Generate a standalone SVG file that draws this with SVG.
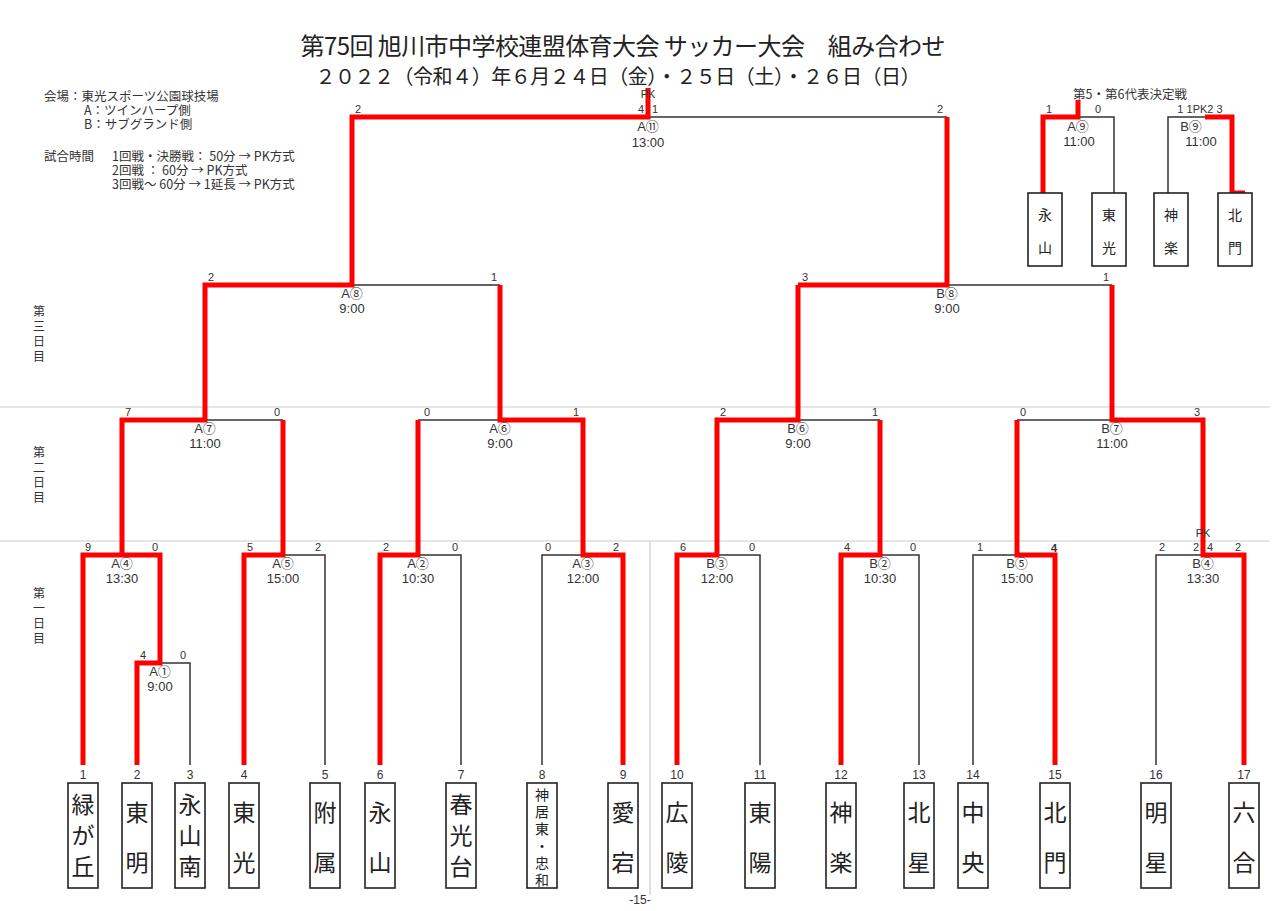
<svg xmlns="http://www.w3.org/2000/svg" width="1280" height="911" viewBox="0 0 1280 911">
<style>
text{font-family:'Liberation Sans','Noto Sans CJK JP',sans-serif;fill:#333}
.jp{font-family:'Noto Sans CJK JP','Liberation Sans',sans-serif}
.red{fill:none;stroke:#f00;stroke-width:5;stroke-linejoin:miter}
.blk{fill:none;stroke:#333;stroke-width:1.5}
.grid{fill:none;stroke:#ccc;stroke-width:1.2}
.box{fill:#fff;stroke:#222;stroke-width:1.6}
.sc{font-size:11px}
.md{font-size:13px;text-anchor:middle}
.num{font-size:12px;text-anchor:middle}
.tm{font-family:'Noto Sans CJK JP',sans-serif;font-size:23px;text-anchor:middle;fill:#222}
.tms{font-family:'Noto Sans CJK JP',sans-serif;font-size:14px;text-anchor:middle;fill:#222}
.info{font-family:'Noto Sans CJK JP',sans-serif;font-size:12.5px}
.day{font-family:'Noto Sans CJK JP',sans-serif;font-size:12px;writing-mode:vertical-rl;letter-spacing:3px}
</style>
<rect width="1280" height="911" fill="#fff"/>
<g id="title">
<text class="jp" x="623" y="55" font-size="24" text-anchor="middle" textLength="645" style="fill:#222">第75回 旭川市中学校連盟体育大会 サッカー大会　組み合わせ</text>
<text class="jp" x="618" y="84" font-size="20" text-anchor="middle" textLength="605" style="fill:#222">２０２２（令和４）年６月２４日（金）・２５日（土）・２６日（日）</text>
</g>
<g id="info">
<text class="info" x="44" y="101">会場：東光スポーツ公園球技場</text>
<text class="info" x="84" y="115">A：ツインハープ側</text>
<text class="info" x="84" y="129">B：サブグランド側</text>
<text class="info" x="44" y="161">試合時間</text>
<text class="info" x="112" y="161">1回戦・決勝戦： 50分 → PK方式</text>
<text class="info" x="112" y="175">2回戦 ： 60分 → PK方式</text>
<text class="info" x="112" y="189">3回戦～ 60分 → 1延長 → PK方式</text>
</g>
<g id="days">
<text class="day" x="39" y="305">第三日目</text>
<text class="day" x="39" y="446">第二日目</text>
<text class="day" x="39" y="587">第一日目</text>
</g>
<g id="gridlines">
<path class="grid" d="M0,407 H1270 M0,541 H1270 M650,541 V895"/>
</g>
<g id="connectors">
<path class="blk" d="M160,663 H190 V765 M283,555 H325 V765 M205,420 H283 M418,555 H461 V765 M583,555 H542 V765 M500,420 H418 M352,285 H500 M648,117 H947 M947,285 H1112 M798,420 H880 M1112,420 H1017 M717,555 H760 V765 M880,555 H919 V765 M1017,555 H973 V765 M1203,555 H1156 V765 M1078,117 H1114 V193 M1205,117 H1168 V193"/>
<path class="red" d="M83,765 V555 H160 V663 H137 V765"/>
<path class="red" d="M122,555 V420 H205 V285 H352 V117 H648 V88"/>
<path class="red" d="M244,765 V555 H283 V420"/>
<path class="red" d="M380,765 V555 H418 V420"/>
<path class="red" d="M623,765 V555 H583 V420 H500 V285"/>
<path class="red" d="M947,117 V285 H798"/>
<path class="red" d="M677,765 V555 H717 V420 H798 V285"/>
<path class="red" d="M841,765 V555 H880 V420"/>
<path class="red" d="M1055,765 V555 H1017 V420"/>
<path class="red" d="M1244,765 V555 H1203 V420 H1112 V285"/>
<path class="red" d="M1043,193 V117 H1078 V100"/>
<path class="red" d="M1205,117 H1232 V193 H1245"/>
</g>
<g id="scores">
<text class="sc" x="85" y="551">9</text><text class="sc" x="152" y="551">0</text>
<text class="sc" x="140" y="659">4</text><text class="sc" x="180" y="659">0</text>
<text class="sc" x="247" y="551">5</text><text class="sc" x="315" y="551">2</text>
<text class="sc" x="383" y="551">2</text><text class="sc" x="452" y="551">0</text>
<text class="sc" x="545" y="551">0</text><text class="sc" x="613" y="551">2</text>
<text class="sc" x="680" y="551">6</text><text class="sc" x="749" y="551">0</text>
<text class="sc" x="844" y="551">4</text><text class="sc" x="910" y="551">0</text>
<text class="sc" x="977" y="551">1</text><text class="sc" x="1051" y="552" font-size="13" font-weight="bold">4</text>
<text class="sc" x="1159" y="551">2</text><text class="sc" x="1193" y="551">2</text><text class="sc" x="1207" y="551">4</text><text class="sc" x="1235" y="551">2</text>
<text class="sc" x="1203" y="537" text-anchor="middle">PK</text>
<text class="sc" x="125" y="416">7</text><text class="sc" x="274" y="416">0</text>
<text class="sc" x="424" y="416">0</text><text class="sc" x="573" y="416">1</text>
<text class="sc" x="720" y="416">2</text><text class="sc" x="872" y="416">1</text>
<text class="sc" x="1020" y="416">0</text><text class="sc" x="1194" y="416">3</text>
<text class="sc" x="208" y="281">2</text><text class="sc" x="491" y="281">1</text>
<text class="sc" x="802" y="281">3</text><text class="sc" x="1103" y="281">1</text>
<text class="sc" x="355" y="113">2</text><text class="sc" x="638" y="113">4</text><text class="sc" x="652" y="113">1</text><text class="sc" x="937" y="113">2</text>
<text class="sc" x="648" y="98" text-anchor="middle">PK</text>
<text class="sc" x="1046" y="113">1</text><text class="sc" x="1095" y="113">0</text>
<text class="sc" x="1200" y="113" text-anchor="middle">1 1PK2 3</text>
</g>
<g id="matches">
<g id="mA4"><text class="md" x="122" y="568">A④</text><text class="md" x="122" y="583">13:30</text></g>
<g id="mA1"><text class="md" x="160" y="676">A①</text><text class="md" x="160" y="691">9:00</text></g>
<g id="mA5"><text class="md" x="283" y="568">A⑤</text><text class="md" x="283" y="583">15:00</text></g>
<g id="mA2"><text class="md" x="418" y="568">A②</text><text class="md" x="418" y="583">10:30</text></g>
<g id="mA3"><text class="md" x="583" y="568">A③</text><text class="md" x="583" y="583">12:00</text></g>
<g id="mB3"><text class="md" x="717" y="568">B③</text><text class="md" x="717" y="583">12:00</text></g>
<g id="mB2"><text class="md" x="880" y="568">B②</text><text class="md" x="880" y="583">10:30</text></g>
<g id="mB5"><text class="md" x="1017" y="568">B⑤</text><text class="md" x="1017" y="583">15:00</text></g>
<g id="mB4"><text class="md" x="1203" y="568">B④</text><text class="md" x="1203" y="583">13:30</text></g>
<g id="mA7"><text class="md" x="205" y="433">A⑦</text><text class="md" x="205" y="448">11:00</text></g>
<g id="mA6"><text class="md" x="500" y="433">A⑥</text><text class="md" x="500" y="448">9:00</text></g>
<g id="mB6"><text class="md" x="798" y="433">B⑥</text><text class="md" x="798" y="448">9:00</text></g>
<g id="mB7"><text class="md" x="1112" y="433">B⑦</text><text class="md" x="1112" y="448">11:00</text></g>
<g id="mA8"><text class="md" x="352" y="298">A⑧</text><text class="md" x="352" y="313">9:00</text></g>
<g id="mB8"><text class="md" x="947" y="298">B⑧</text><text class="md" x="947" y="313">9:00</text></g>
<g id="mA11"><text class="md" x="648" y="131">A⑪</text><text class="md" x="648" y="147">13:00</text></g>
<g id="mA9"><text class="md" x="1078" y="131">A⑨</text><text class="md" x="1079" y="146">11:00</text></g>
<g id="mB9"><text class="md" x="1191" y="131">B⑨</text><text class="md" x="1201" y="146">11:00</text></g>
</g>
<g id="heading56"><text class="info" x="1073" y="99" font-size="13">第5・第6代表決定戦</text></g>
<g id="teams">
<g id="t1"><text class="num" x="83" y="779">1</text><rect class="box" x="68" y="783" width="30" height="105"/><text class="tm" x="83"><tspan x="83" y="813">緑</tspan><tspan x="83" y="844">が</tspan><tspan x="83" y="875">丘</tspan></text></g>
<g id="t2"><text class="num" x="137" y="779">2</text><rect class="box" x="122" y="783" width="30" height="105"/><text class="tm" x="137"><tspan x="137" y="821">東</tspan><tspan x="137" y="871">明</tspan></text></g>
<g id="t3"><text class="num" x="190" y="779">3</text><rect class="box" x="175" y="783" width="30" height="105"/><text class="tm" x="190"><tspan x="190" y="813">永</tspan><tspan x="190" y="844">山</tspan><tspan x="190" y="875">南</tspan></text></g>
<g id="t4"><text class="num" x="244" y="779">4</text><rect class="box" x="229" y="783" width="30" height="105"/><text class="tm" x="244"><tspan x="244" y="821">東</tspan><tspan x="244" y="871">光</tspan></text></g>
<g id="t5"><text class="num" x="325" y="779">5</text><rect class="box" x="310" y="783" width="30" height="105"/><text class="tm" x="325"><tspan x="325" y="821">附</tspan><tspan x="325" y="871">属</tspan></text></g>
<g id="t6"><text class="num" x="380" y="779">6</text><rect class="box" x="365" y="783" width="30" height="105"/><text class="tm" x="380"><tspan x="380" y="821">永</tspan><tspan x="380" y="871">山</tspan></text></g>
<g id="t7"><text class="num" x="461" y="779">7</text><rect class="box" x="446" y="783" width="30" height="105"/><text class="tm" x="461"><tspan x="461" y="813">春</tspan><tspan x="461" y="844">光</tspan><tspan x="461" y="875">台</tspan></text></g>
<g id="t8"><text class="num" x="542" y="779">8</text><rect class="box" x="527" y="783" width="30" height="105"/><text class="tms" x="542"><tspan x="542" y="800">神</tspan><tspan x="542" y="817">居</tspan><tspan x="542" y="834">東</tspan><tspan x="542" y="851">・</tspan><tspan x="542" y="868">忠</tspan><tspan x="542" y="885">和</tspan></text></g>
<g id="t9"><text class="num" x="623" y="779">9</text><rect class="box" x="608" y="783" width="30" height="105"/><text class="tm" x="623"><tspan x="623" y="821">愛</tspan><tspan x="623" y="871">宕</tspan></text></g>
<g id="t10"><text class="num" x="677" y="779">10</text><rect class="box" x="662" y="783" width="30" height="105"/><text class="tm" x="677"><tspan x="677" y="821">広</tspan><tspan x="677" y="871">陵</tspan></text></g>
<g id="t11"><text class="num" x="760" y="779">11</text><rect class="box" x="745" y="783" width="30" height="105"/><text class="tm" x="760"><tspan x="760" y="821">東</tspan><tspan x="760" y="871">陽</tspan></text></g>
<g id="t12"><text class="num" x="841" y="779">12</text><rect class="box" x="826" y="783" width="30" height="105"/><text class="tm" x="841"><tspan x="841" y="821">神</tspan><tspan x="841" y="871">楽</tspan></text></g>
<g id="t13"><text class="num" x="919" y="779">13</text><rect class="box" x="904" y="783" width="30" height="105"/><text class="tm" x="919"><tspan x="919" y="821">北</tspan><tspan x="919" y="871">星</tspan></text></g>
<g id="t14"><text class="num" x="973" y="779">14</text><rect class="box" x="958" y="783" width="30" height="105"/><text class="tm" x="973"><tspan x="973" y="821">中</tspan><tspan x="973" y="871">央</tspan></text></g>
<g id="t15"><text class="num" x="1055" y="779">15</text><rect class="box" x="1040" y="783" width="30" height="105"/><text class="tm" x="1055"><tspan x="1055" y="821">北</tspan><tspan x="1055" y="871">門</tspan></text></g>
<g id="t16"><text class="num" x="1156" y="779">16</text><rect class="box" x="1141" y="783" width="30" height="105"/><text class="tm" x="1156"><tspan x="1156" y="821">明</tspan><tspan x="1156" y="871">星</tspan></text></g>
<g id="t17"><text class="num" x="1244" y="779">17</text><rect class="box" x="1229" y="783" width="30" height="105"/><text class="tm" x="1244"><tspan x="1244" y="821">六</tspan><tspan x="1244" y="871">合</tspan></text></g>
</g>
<g id="teams56">
<g id="s1"><rect class="box" x="1028" y="193" width="34" height="73"/><text class="tms" x="1045"><tspan x="1045" y="220">永</tspan><tspan x="1045" y="253">山</tspan></text></g>
<g id="s2"><rect class="box" x="1092" y="193" width="34" height="73"/><text class="tms" x="1109"><tspan x="1109" y="220">東</tspan><tspan x="1109" y="253">光</tspan></text></g>
<g id="s3"><rect class="box" x="1154" y="193" width="34" height="73"/><text class="tms" x="1171"><tspan x="1171" y="220">神</tspan><tspan x="1171" y="253">楽</tspan></text></g>
<g id="s4"><rect class="box" x="1218" y="193" width="34" height="73"/><text class="tms" x="1235"><tspan x="1235" y="220">北</tspan><tspan x="1235" y="253">門</tspan></text></g>
</g>
<g id="page"><text class="num" x="640" y="904">-15-</text></g>
</svg>
